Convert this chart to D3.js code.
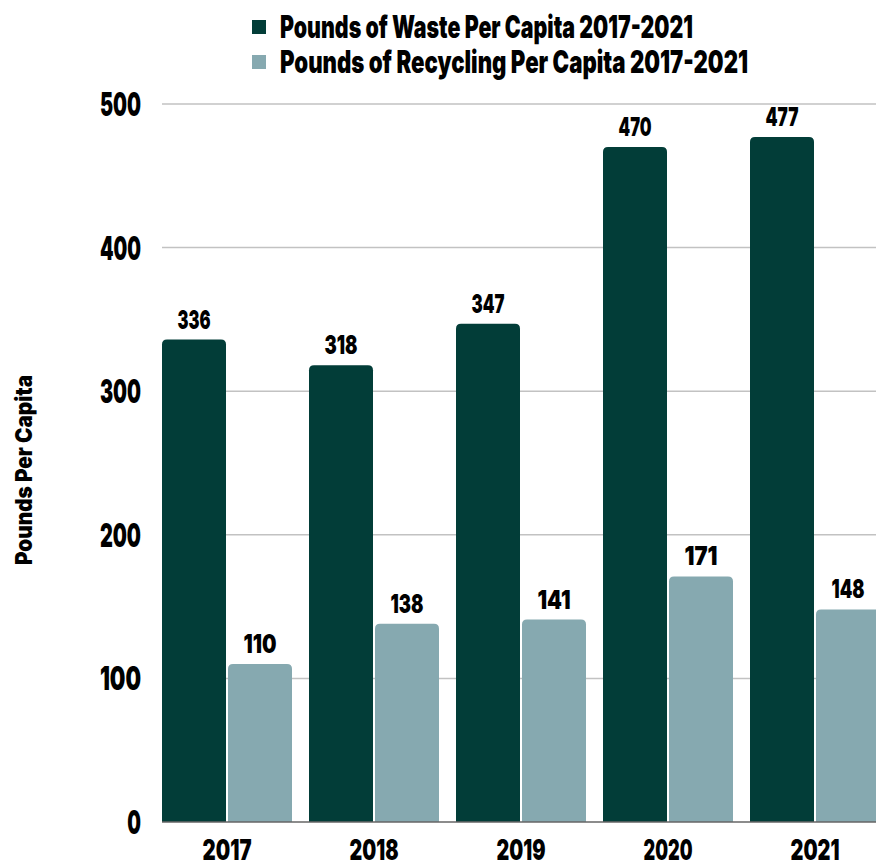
<!DOCTYPE html>
<html><head><meta charset="utf-8">
<script src="https://cdn.jsdelivr.net/npm/d3@7"></script>
<style>
html,body{margin:0;padding:0;background:#fff;}
svg text{font-family:Inter,"Roboto","DejaVu Sans Condensed",sans-serif;font-weight:900;fill:#000;}
</style></head>
<body>
<svg id="chart" width="876" height="867"></svg>
<script>
const years = ["2017","2018","2019","2020","2021"];
const seriesNames = ["Pounds of Waste Per Capita 2017-2021","Pounds of Recycling Per Capita 2017-2021"];
const waste = [336,318,347,470,477];
const recycling = [110,138,141,171,148];
const yTicks = [0,100,200,300,400,500];
const colors = ["#023D38","#86A9B0"];
const yTitle = "Pounds Per Capita";

const svg = d3.select("#chart");
const W = 876, H = 867;
const m = {left:162, top:104, bottom:822};

const y = d3.scaleLinear().domain([0,500]).range([m.bottom, m.top]);
const x0 = d3.scaleBand().domain(years).range([162, 880]).paddingInner(17/147).paddingOuter(0);
const x1 = d3.scaleBand().domain([0,1]).range([0, x0.bandwidth()]).paddingInner(2/66);

// gridlines
svg.append("g").selectAll("line").data(yTicks.filter(d=>d>0)).join("line")
  .attr("x1", 162).attr("x2", W).attr("y1", d=>y(d)).attr("y2", d=>y(d))
  .attr("stroke", "#c2c2c2").attr("stroke-width", 1.5);

// y tick labels
svg.append("g").selectAll("text").data(yTicks).join("text")
  .attr("x", 141).attr("y", d=>y(d)+12).attr("text-anchor","end")
  .attr("font-size", 33).attr("textLength", d=>String(d).length*13.7).attr("lengthAdjust","spacingAndGlyphs")
  .text(d=>d);

// y title
svg.append("text").attr("transform","translate(32,470) rotate(-90)")
  .attr("text-anchor","middle").attr("font-size", 23)
  .attr("textLength", 190).attr("lengthAdjust","spacingAndGlyphs")
  .text(yTitle);

function topRounded(x, yTop, w, h, r){
  r = Math.min(r, h, w/2);
  return `M${x},${yTop+h}V${yTop+r}Q${x},${yTop} ${x+r},${yTop}H${x+w-r}Q${x+w},${yTop} ${x+w},${yTop+r}V${yTop+h}Z`;
}

const data = [];
years.forEach((yr,i)=>{
  data.push({year:yr, s:0, v:waste[i]});
  data.push({year:yr, s:1, v:recycling[i]});
});

const bars = svg.append("g");
bars.selectAll("path").data(data).join("path")
  .attr("d", d=>topRounded(x0(d.year)+x1(d.s), y(d.v), x1.bandwidth(), y(0)-y(d.v), 5))
  .attr("fill", d=>colors[d.s]);

// baseline
svg.append("line").attr("x1",162).attr("x2",W).attr("y1",y(0)).attr("y2",y(0))
  .attr("stroke","#666").attr("stroke-width",1.5);

// value labels
svg.append("g").selectAll("text").data(data).join("text")
  .attr("x", d=>x0(d.year)+x1(d.s)+x1.bandwidth()/2)
  .attr("y", d=>y(d.v)-11)
  .attr("text-anchor","middle").attr("font-size", 26)
  .attr("textLength", 33).attr("lengthAdjust","spacingAndGlyphs")
  .text(d=>d.v);

// x labels
svg.append("g").selectAll("text").data(years).join("text")
  .attr("x", d=>x0(d)+x0.bandwidth()/2).attr("y", 860)
  .attr("text-anchor","middle").attr("font-size", 28)
  .attr("textLength", 49).attr("lengthAdjust","spacingAndGlyphs")
  .text(d=>d);

// legend
const lg = svg.append("g");
seriesNames.forEach((n,i)=>{
  const ly = 27 + i*35;
  lg.append("rect").attr("x",252).attr("y",ly-7).attr("width",14).attr("height",14).attr("fill",colors[i]);
  lg.append("text").attr("x",280).attr("y",ly+11).attr("font-size",31)
    .attr("textLength", i===0?413:468).attr("lengthAdjust","spacingAndGlyphs").text(n);
});
</script>
</body></html>
